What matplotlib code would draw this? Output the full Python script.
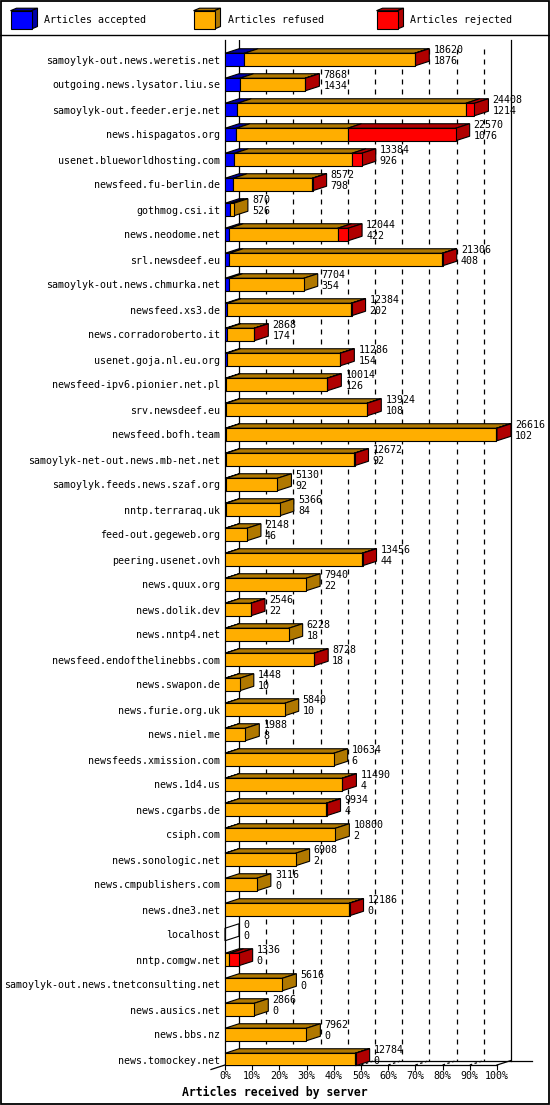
import matplotlib
matplotlib.use('Agg')
import matplotlib.pyplot as plt
from matplotlib.patches import Polygon, Rectangle

# data (top to bottom)
servers = [
    'samoylyk-out.news.weretis.net', 'outgoing.news.lysator.liu.se',
    'samoylyk-out.feeder.erje.net', 'news.hispagatos.org',
    'usenet.blueworldhosting.com', 'newsfeed.fu-berlin.de', 'gothmog.csi.it',
    'news.neodome.net', 'srl.newsdeef.eu', 'samoylyk-out.news.chmurka.net',
    'newsfeed.xs3.de', 'news.corradoroberto.it', 'usenet.goja.nl.eu.org',
    'newsfeed-ipv6.pionier.net.pl', 'srv.newsdeef.eu', 'newsfeed.bofh.team',
    'samoylyk-net-out.news.mb-net.net', 'samoylyk.feeds.news.szaf.org',
    'nntp.terraraq.uk', 'feed-out.gegeweb.org', 'peering.usenet.ovh',
    'news.quux.org', 'news.dolik.dev', 'news.nntp4.net',
    'newsfeed.endofthelinebbs.com', 'news.swapon.de', 'news.furie.org.uk',
    'news.niel.me', 'newsfeeds.xmission.com', 'news.1d4.us', 'news.cgarbs.de',
    'csiph.com', 'news.sonologic.net', 'news.cmpublishers.com', 'news.dne3.net',
    'localhost', 'nntp.comgw.net', 'samoylyk-out.news.tnetconsulting.net',
    'news.ausics.net', 'news.bbs.nz', 'news.tomockey.net',
]
total = [18620, 7868, 24408, 22570, 13384, 8572, 870, 12044, 21306, 7704,
         12384, 2868, 11286, 10014, 13924, 26616, 12672, 5130, 5366, 2148,
         13456, 7940, 2546, 6228, 8728, 1448, 5840, 1988, 10634, 11490, 9934,
         10800, 6908, 3116, 12186, 0, 1336, 5616, 2866, 7962, 12784]
accepted = [1876, 1434, 1214, 1076, 926, 798, 526, 422, 408, 354, 202, 174,
            154, 126, 108, 102, 92, 92, 84, 46, 44, 22, 22, 18, 18, 10, 10, 8,
            6, 4, 4, 2, 2, 0, 0, 0, 0, 0, 0, 0, 0]
rejected = [60, 40, 850, 10580, 960, 30, 0, 1030, 50, 0, 40, 20, 30, 30, 40,
            60, 30, 0, 0, 0, 40, 0, 20, 0, 30, 0, 0, 0, 0, 30, 30, 0, 0, 0,
            40, 0, 896, 0, 0, 0, 40]
refused = [t - a - r for t, a, r in zip(total, accepted, rejected)]

legend_labels = ['Articles accepted', 'Articles refused', 'Articles rejected']
front_colors = ['#0000ff', '#ffae00', '#ff0000']
dark_colors = ['#0000a8', '#b07800', '#b00000']
pct_ticks = list(range(0, 101, 10))
xlabel = 'Articles received by server'

MONO = 'DejaVu Sans Mono'
FS = 7.2

W, H = 550, 1105
fig = plt.figure(figsize=(W / 100, H / 100), dpi=100)

# overlay in pixel units for frame, legend, axis title
ov = fig.add_axes([0, 0, 1, 1], zorder=0)
ov.set_xlim(0, W)
ov.set_ylim(H, 0)
ov.set_axis_off()
ov.add_patch(Rectangle((0.5, 0.5), 548, 1103, fill=False, ec='black', lw=1.3))
ov.plot([0, W], [35, 35], color='black', lw=1.0)
for k, (lab, fc, dc) in enumerate(zip(legend_labels, front_colors, dark_colors)):
    x0 = 10.5 + k * 183
    ov.add_patch(Polygon([(x0, 10.7), (x0 + 21, 10.7), (x0 + 27, 8.2), (x0 + 6, 8.2)],
                         fc=dc, ec='black', lw=0.8))
    ov.add_patch(Polygon([(x0 + 21, 10.7), (x0 + 27, 8.2), (x0 + 27, 26.5), (x0 + 21, 29)],
                         fc=dc, ec='black', lw=0.8))
    ov.add_patch(Rectangle((x0, 10.7), 21, 18.3, fc=fc, ec='black', lw=0.8))
    ov.text(x0 + 34, 20, lab, family=MONO, fontsize=FS, va='center', ha='left')
ov.text(W / 2, 1092.5, xlabel, family=MONO, fontsize=8.3, fontweight='bold',
        ha='center', va='center')

# plot area
px_left, px_right, px_top, px_bottom = 225, 497, 40, 1065
row_px, first_row_px = 25, 59.5
y_top = -(first_row_px - px_top) / row_px
y_bot = (px_bottom - first_row_px) / row_px
ax = fig.add_axes([px_left / W, 1 - px_bottom / H,
                   (px_right - px_left) / W, (px_bottom - px_top) / H], zorder=1)
ax.set_xlim(0, 100)
ax.set_ylim(y_bot, y_top)
ax.patch.set_visible(False)
for s in ['top', 'right']:
    ax.spines[s].set_visible(False)
for s in ['left', 'bottom']:
    ax.spines[s].set_linewidth(0.9)

DX = 14 / ((px_right - px_left) / 100)   # depth in x units
DY = 4.5 / row_px                          # depth in row units
half = 0.25

# back wall, floor and grid
ax.plot([DX, DX], [y_top, y_bot - DY], color='black', lw=0.9, zorder=1)
ax.plot([100 + DX, 100 + DX], [y_top, y_bot - DY], color='black', lw=0.9, zorder=1, clip_on=False)
ax.plot([DX, 113], [y_bot - DY] * 2, color='black', lw=0.9, zorder=1, clip_on=False)
ax.plot([-DX, DX], [y_bot + DY, y_bot - DY], color='black', lw=0.9, zorder=1, clip_on=False)
ax.plot([100, 100 + DX], [y_bot, y_bot - DY], color='black', lw=0.9, zorder=1, clip_on=False)
for p in pct_ticks[1:-1]:
    ax.plot([p + DX, p + DX], [y_top + 0.35, y_bot - DY], color='black', lw=0.9,
            ls=(0, (4, 4)), zorder=1)
    ax.plot([p, p + DX], [y_bot, y_bot - DY], color='black', lw=0.9,
            ls=(0, (2, 2)), zorder=1, clip_on=False)

vmax = max(total)
segments = list(zip(accepted, refused, rejected))
for i, seg in enumerate(segments):
    x0 = 0
    yt, yb = i - half, i + half
    last_dark = None
    for v, fc, dc in zip(seg, front_colors, dark_colors):
        w = v / vmax * 100
        if w <= 0:
            continue
        ax.add_patch(Polygon([(x0, yt), (x0 + w, yt), (x0 + w + DX, yt - DY), (x0 + DX, yt - DY)],
                             fc=dc, ec='black', lw=0.8, zorder=3, clip_on=False))
        ax.barh(i, w, left=x0, height=2 * half, color=fc, edgecolor='black',
                linewidth=0.8, zorder=4)
        x0 += w
        last_dark = dc
    side = [(x0, yt), (x0 + DX, yt - DY), (x0 + DX, yb - DY), (x0, yb)]
    if last_dark is None:
        ax.add_patch(Polygon(side, fill=False, ec='black', lw=0.8, zorder=3, clip_on=False))
    else:
        ax.add_patch(Polygon(side, fc=last_dark, ec='black', lw=0.8, zorder=3, clip_on=False))
    ax.text(x0 + DX + 1.5, i - 0.38, str(total[i]), family=MONO, fontsize=FS,
            va='center', ha='left', zorder=5)
    ax.text(x0 + DX + 1.5, i + 0.05, str(accepted[i]), family=MONO, fontsize=FS,
            va='center', ha='left', zorder=5)

ax.set_yticks(range(len(servers)))
ax.set_yticklabels(servers, family=MONO, fontsize=FS)
ax.tick_params(axis='y', length=0, pad=3.6)
ax.set_xticks(pct_ticks)
ax.set_xticklabels([f'{p}%' for p in pct_ticks], family=MONO, fontsize=FS)
ax.tick_params(axis='x', length=3.5, width=0.8, pad=0.5)

fig.savefig('out.png', dpi=100)
